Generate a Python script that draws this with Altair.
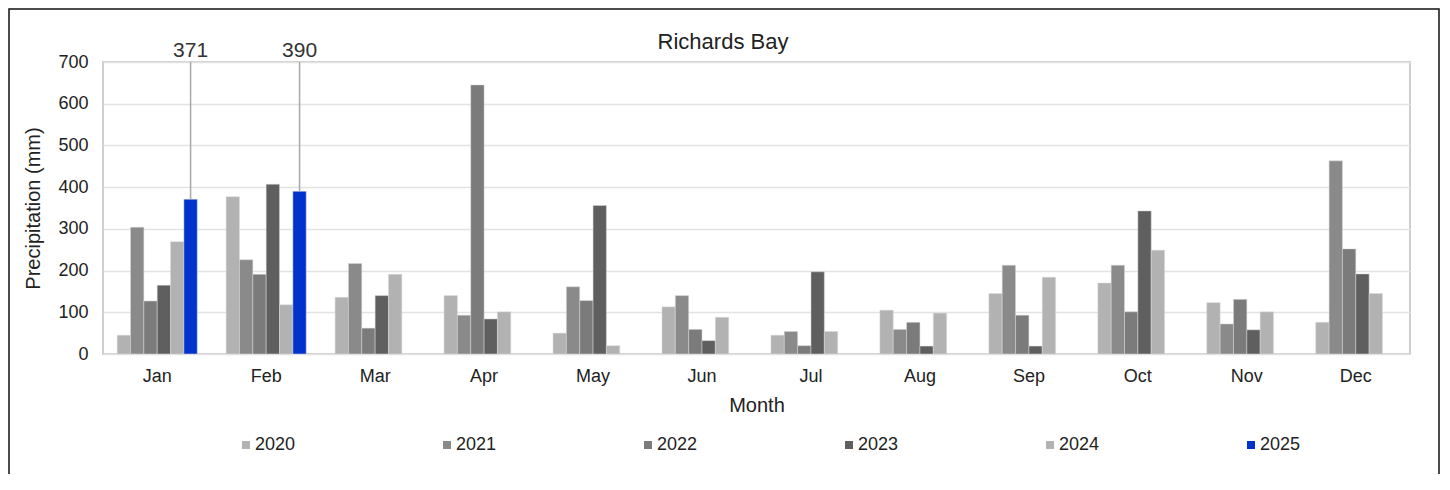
import altair as alt
import pandas as pd

months = ["Jan", "Feb", "Mar", "Apr", "May", "Jun", "Jul", "Aug", "Sep", "Oct", "Nov", "Dec"]
years = ["2020", "2021", "2022", "2023", "2024", "2025"]
colors = ["#b2b2b2", "#8a8a8a", "#7b7b7b", "#5f5f5f", "#b2b2b2", "#0033cc"]

p2020 = [45, 377, 136, 140, 50, 113, 45, 105, 145, 170, 123, 76]
p2021 = [304, 226, 217, 93, 161, 140, 54, 59, 213, 213, 72, 463]
p2022 = [127, 191, 62, 645, 128, 59, 20, 76, 93, 101, 131, 252]
p2023 = [165, 407, 140, 84, 356, 32, 197, 19, 19, 343, 58, 192]
p2024 = [269, 118, 191, 101, 20, 88, 54, 98, 184, 249, 101, 145]
p2025 = [371, 390]
title_text = "Richards Bay"

series = {"2020": p2020, "2021": p2021, "2022": p2022, "2023": p2023, "2024": p2024, "2025": p2025}
rows = []
for y in years:
    for m, v in zip(months, series[y]):
        rows.append({"month": m, "year": y, "value": v})
df = pd.DataFrame(rows)

FONT = "Liberation Sans"
W, H = 1307, 292

x_enc = alt.X("month:N", sort=months, title="Month",
              scale=alt.Scale(paddingInner=0.265, paddingOuter=0.13),
              axis=alt.Axis(labelAngle=0, ticks=False, domain=False, labelPadding=13,
                            labelFontSize=18, titleFontSize=20, titlePadding=10,
                            labelColor="#222", titleColor="#222", titleFontWeight="normal"))
xo_enc = alt.XOffset("year:N", scale=alt.Scale(domain=years, paddingInner=0, paddingOuter=0))
y_enc = alt.Y("value:Q", title="Precipitation (mm)",
              scale=alt.Scale(domain=[0, 700], nice=False),
              axis=alt.Axis(values=[0, 100, 200, 300, 400, 500, 600, 700], ticks=False, domain=False,
                            labelPadding=15, labelFontSize=18, titleFontSize=20, titlePadding=14,
                            labelColor="#222", titleColor="#222", titleFontWeight="normal",
                            gridColor="#e3e3e3", gridWidth=1.5))

base = alt.Chart(df)

bars = base.mark_bar(stroke="#d8d8d8", strokeWidth=0.5).encode(
    x=x_enc, xOffset=xo_enc, y=y_enc,
    color=alt.Color("year:N", scale=alt.Scale(domain=years, range=colors),
                    legend=alt.Legend(title=None, orient="none", direction="horizontal", columns=6,
                                      legendX=134, legendY=374, symbolType="square", symbolSize=64,
                                      symbolStrokeWidth=0, labelFontSize=18, labelOffset=0,
                                      columnPadding=142, labelColor="#222", labelFont=FONT)),
)

ann = base.transform_filter("datum.year == '2025'")
rules = ann.mark_rule(color="#a8a8a8", strokeWidth=1.5).encode(
    x=alt.X("month:N", sort=months), xOffset=xo_enc, y="value:Q", y2=alt.value(0))
texts = ann.mark_text(fontSize=21, font=FONT, color="#333", baseline="alphabetic", align="center").encode(
    x=alt.X("month:N", sort=months), xOffset=xo_enc, y=alt.value(-5), text="value:Q")

one = alt.Chart(pd.DataFrame({"t": [title_text]}))
title = one.mark_text(fontSize=22, font=FONT, color="#222", baseline="alphabetic", align="center").encode(
    x=alt.value(620), y=alt.value(-13), text="t:N")

frame = one.mark_rect(fill=None, stroke="#111", strokeWidth=1.5).encode(
    x=alt.value(-94), x2=alt.value(1336), y=alt.value(-53), y2=alt.value(520))

chart = alt.layer(bars, rules, texts, title, frame).properties(
    width=W, height=H,
    autosize=alt.AutoSizeParams(type="none"),
    padding={"left": 95, "top": 54, "right": 30, "bottom": 120},
).configure(font=FONT).configure_view(stroke="#cfcfcf", strokeWidth=2)

chart.save("out.html", embed_options={"renderer": "svg", "actions": False})
